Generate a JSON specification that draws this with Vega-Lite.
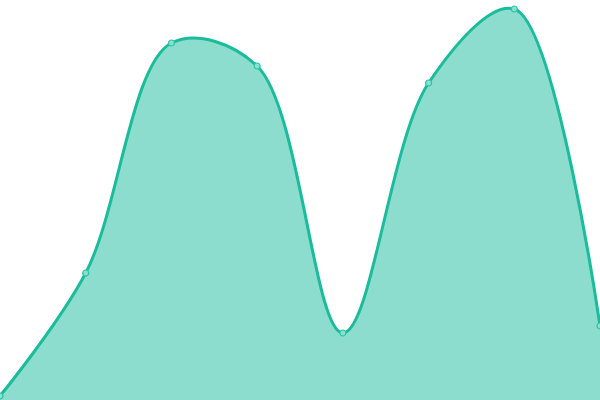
{
  "$schema": "https://vega.github.io/schema/vega-lite/v6.json",
  "width": 600,
  "height": 400,
  "padding": 0,
  "autosize": {"type": "none"},
  "data": {
    "values": [
      {"i": 0, "v": 4},
      {"i": 1, "v": 127},
      {"i": 2, "v": 357},
      {"i": 3, "v": 334},
      {"i": 4, "v": 67},
      {"i": 5, "v": 317},
      {"i": 6, "v": 391},
      {"i": 7, "v": 74}
    ]
  },
  "encoding": {
    "x": {"field": "i", "type": "quantitative", "scale": {"domain": [0, 7], "nice": false, "zero": false}, "axis": null},
    "y": {"field": "v", "type": "quantitative", "scale": {"domain": [0, 400], "nice": false}, "axis": null}
  },
  "layer": [
    {"mark": {"type": "area", "interpolate": "catmull-rom", "color": "#1abc9c", "opacity": 0.5}},
    {"mark": {"type": "line", "interpolate": "catmull-rom", "color": "#1abc9c", "strokeWidth": 3}},
    {"mark": {"type": "point", "filled": true, "fill": "#8ae0ce", "stroke": "#2cc4a5", "strokeWidth": 1.2, "size": 36, "opacity": 1}}
  ],
  "config": {"view": {"stroke": null}}
}
